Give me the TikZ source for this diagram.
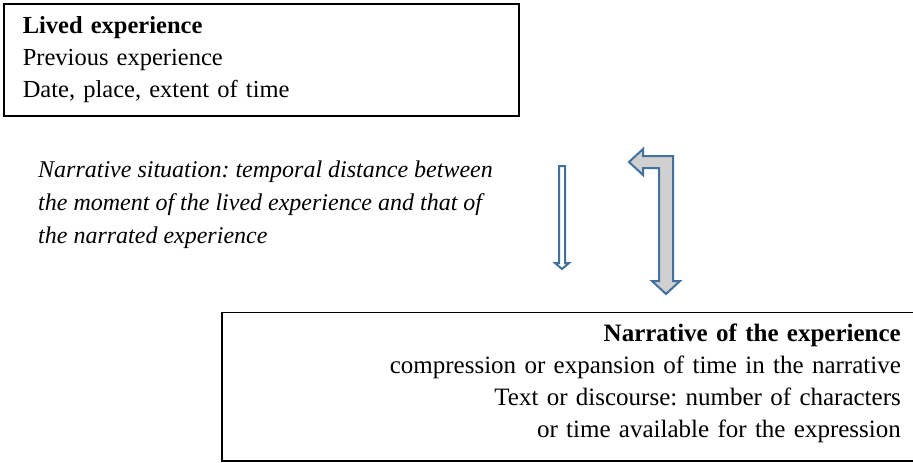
\documentclass[tikz,border=0pt]{standalone}
\usepackage{fontspec}
\setmainfont{Liberation Serif}
\usetikzlibrary{positioning}
\definecolor{arrowblue}{RGB}{65,113,156}
\definecolor{arrowgrey}{RGB}{208,208,208}
\frenchspacing
\tikzset{
  framebox/.style={draw, line width=1.6pt, anchor=north west, inner xsep=19pt,
    font=\fontsize{24.5}{32}\selectfont},
  blockarrow/.style={draw=arrowblue, line width=2pt, line join=miter},
}

\begin{document}
\begin{tikzpicture}[x=1pt,y=-1pt]
\useasboundingbox (0,0) rectangle (913,463);
\draw (3,3) node[framebox, align=left, text width=477pt, minimum height=112pt] (lived)
  {\textbf{Lived experience}\\ Previous experience\\ Date, place, extent of time};
%
\draw (lived.south west) ++ (35,44) node[anchor=north west, inner sep=0pt, align=left,
  font=\fontsize{24}{33}\selectfont\itshape] (situation)
  {Narrative situation: temporal distance between\\
   the moment of the lived experience and that of\\
   the narrated experience};
%
\draw (lived.south west) ++ (218,195) node[framebox, anchor=north west, inner xsep=17pt,
  inner ysep=11pt, align=right, text width=662pt, text depth=109pt,
  font=\fontsize{25}{32}\selectfont] (narrative)
  {\textbf{Narrative of the experience}\\
   compression or expansion of time in the narrative\\
   Text or discourse: number of characters\\
   or time available for the expression};
%
% thin arrow down
\path[blockarrow, fill=white] (559,166) -- (565,166) -- (565,263) -- (569,263)
  -- (562,269) -- (555,263) -- (559,263) -- cycle;
% bent arrow, back and down
\path[blockarrow, fill=arrowgrey] (629,162) -- (643,149) -- (643,156) -- (673,156)
  -- (673,281) -- (680,281) -- (666,294) -- (652,281) -- (659,281) -- (659,168)
  -- (643,168) -- (643,175) -- cycle;
\end{tikzpicture}
\end{document}
